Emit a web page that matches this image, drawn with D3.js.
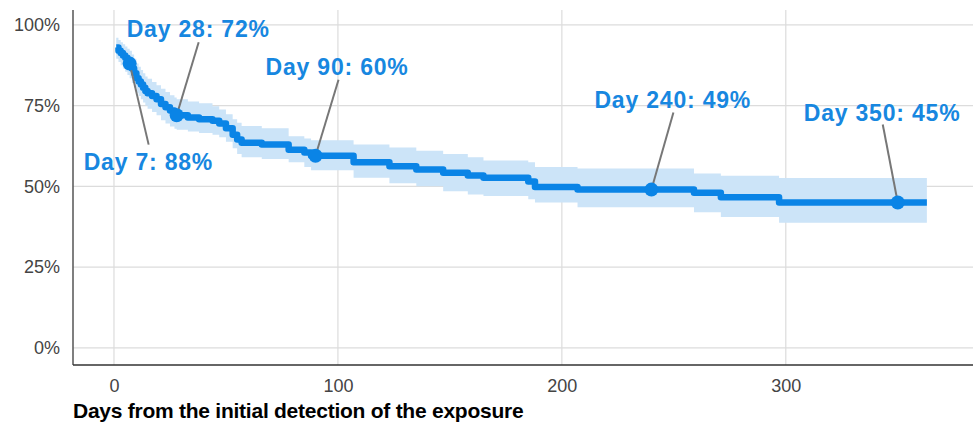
<!DOCTYPE html>
<html>
<head>
<meta charset="utf-8">
<script src="https://cdn.jsdelivr.net/npm/d3@7"></script>
<style>
  html, body { margin: 0; padding: 0; background: #fff; }
  svg { display: block; }
  .tick text { font-family: "Liberation Sans", Arial, sans-serif; font-size: 18px; fill: #444; }
</style>
</head>
<body>
<svg id="chart" width="978" height="422"></svg>
<script>
// ---- Data ----
const days     = [1, 2, 3, 4, 5, 6, 7, 8, 9, 10, 11, 12, 13, 14, 15, 17, 19, 21, 23, 25, 27, 28, 33, 38, 44, 47, 50, 53, 55, 57, 66, 78, 85, 88, 107, 123, 135, 147, 158, 165, 185, 188, 207, 259, 271, 297, 363];
const survival = [93, 92, 91.3, 90.5, 89.8, 89, 88, 86.5, 85, 83.5, 82.5, 81.5, 80.5, 79.5, 78.8, 78, 77, 75.5, 74.5, 73.5, 72.5, 72, 71.3, 70.8, 70.3, 69.5, 68, 66, 64.5, 63.5, 63, 61.3, 60.5, 59.5, 57.5, 56.2, 55.2, 54.2, 53.4, 52.7, 51.5, 49.8, 49, 48, 46.6, 45, 45];
const lowerCI  = [89.5, 88.5, 87.5, 86.5, 85.5, 84.5, 83.5, 82, 80.5, 79, 78, 77, 76, 75, 74, 73, 72, 70.5, 69.5, 68.5, 67.8, 67.5, 67, 66.5, 66, 65.2, 63.8, 61.8, 60, 59, 58.5, 57.5, 56, 55, 52.7, 51, 50, 48.5, 47.5, 47, 46, 45, 43.5, 42, 40.5, 38.7, 38.7];
const upperCI  = [96, 95.3, 94.6, 94, 93.3, 92.6, 92, 90.8, 89.5, 88, 87, 86, 85, 84, 83.3, 82.3, 81.3, 80.2, 79.2, 78.2, 77.5, 77, 76.3, 75.7, 74.8, 73.8, 72.3, 70.8, 69.7, 68.7, 68, 65.5, 64.8, 64.3, 63, 62, 61, 60, 59, 58, 57.5, 56, 55.5, 54, 53.3, 52.6, 52.6];

const annotDays   = [7, 28, 90, 240, 350];
const annotLabels = ["Day 7: 88%", "Day 28: 72%", "Day 90: 60%", "Day 240: 49%", "Day 350: 45%"];

const xTicks = [0, 100, 200, 300];
const yTicks = [0, 25, 50, 75, 100];
const xTitle = "Days from the initial detection of the exposure";

// ---- Layout ----
const W = 978, H = 422;
const margin = { left: 73, right: 5, top: 10, bottom: 57 };
const svg = d3.select("#chart");

const x = d3.scaleLinear().domain([-18.3, 383.6]).range([margin.left, W - margin.right]);
const y = d3.scaleLinear().domain([-5.3, 104.6]).range([H - margin.bottom, margin.top]);

const rows = days.map((d, i) => ({ d, s: survival[i], lo: lowerCI[i], hi: upperCI[i] }));

// grid
const grid = svg.append("g");
grid.selectAll("line.h").data(yTicks).join("line")
  .attr("x1", x.range()[0]).attr("x2", x.range()[1])
  .attr("y1", d => y(d)).attr("y2", d => y(d))
  .attr("stroke", "#dcdcdc").attr("stroke-width", 1.2);
grid.selectAll("line.v").data(xTicks).join("line")
  .attr("x1", d => x(d)).attr("x2", d => x(d))
  .attr("y1", y.range()[1]).attr("y2", y.range()[0])
  .attr("stroke", "#dcdcdc").attr("stroke-width", 1.2);

// confidence band
const area = d3.area().curve(d3.curveStepAfter)
  .x(d => x(d.d)).y0(d => y(d.lo)).y1(d => y(d.hi));
svg.append("path").datum(rows).attr("d", area).attr("fill", "#cce4f8");

// survival line
const line = d3.line().curve(d3.curveStepAfter).x(d => x(d.d)).y(d => y(d.s));
svg.append("path").datum(rows).attr("d", line)
  .attr("fill", "none").attr("stroke", "#0a84e6").attr("stroke-width", 6.5)
  .attr("stroke-linejoin", "round").attr("stroke-linecap", "butt");

// axes
const xAxis = d3.axisBottom(x).tickValues(xTicks).tickSize(0).tickPadding(14);
const gx = svg.append("g").attr("transform", `translate(0,${y.range()[0]})`).call(xAxis);
gx.select(".domain").remove();
const yAxis = d3.axisLeft(y).tickValues(yTicks).tickSize(0).tickPadding(13).tickFormat(d => d + "%");
const gy = svg.append("g").attr("transform", `translate(${x.range()[0]},0)`).call(yAxis);
gy.select(".domain").remove();

svg.append("line")
  .attr("x1", x.range()[0]).attr("x2", x.range()[0])
  .attr("y1", y.range()[1]).attr("y2", y.range()[0])
  .attr("stroke", "#555").attr("stroke-width", 1.5);
svg.append("line")
  .attr("x1", x.range()[0]).attr("x2", x.range()[1])
  .attr("y1", y.range()[0]).attr("y2", y.range()[0])
  .attr("stroke", "#333").attr("stroke-width", 1.5);

// x title
svg.append("text")
  .attr("x", x.range()[0]).attr("y", 418)
  .attr("font-family", "'Liberation Sans', Arial, sans-serif")
  .attr("font-weight", "bold").attr("font-size", 21).attr("fill", "#000")
  .attr("letter-spacing", -0.25)
  .text(xTitle);

// annotations: label offset (in px) relative to the point
const labelPos = [
  { dx: -46, dy: 106, lx: 19, ly: 81 },
  { dx: -50, dy: -78, lx: 22, ly: -73 },
  { dx: -50, dy: -81, lx: 23, ly: -76 },
  { dx: -57, dy: -82, lx: 22, ly: -77 },
  { dx: -94, dy: -82, lx: -15, ly: -78 }
];
const ann = svg.append("g");
annotDays.forEach((d, i) => {
  const idx = d3.bisectRight(days, d) - 1;
  const px = x(d), py = y(survival[idx]);
  const p = labelPos[i];
  ann.append("line")
    .attr("x1", px).attr("y1", py)
    .attr("x2", px + p.lx).attr("y2", py + p.ly)
    .attr("stroke", "#777").attr("stroke-width", 2);
  ann.append("circle").attr("cx", px).attr("cy", py).attr("r", 7).attr("fill", "#0a84e6");
  ann.append("text")
    .attr("x", px + p.dx).attr("y", py + p.dy)
    .attr("font-family", "'Liberation Sans', Arial, sans-serif")
    .attr("font-weight", "bold").attr("font-size", 23).attr("fill", "#1787e0")
    .attr("letter-spacing", 0.8)
    .text(annotLabels[i]);
});
</script>
</body>
</html>
